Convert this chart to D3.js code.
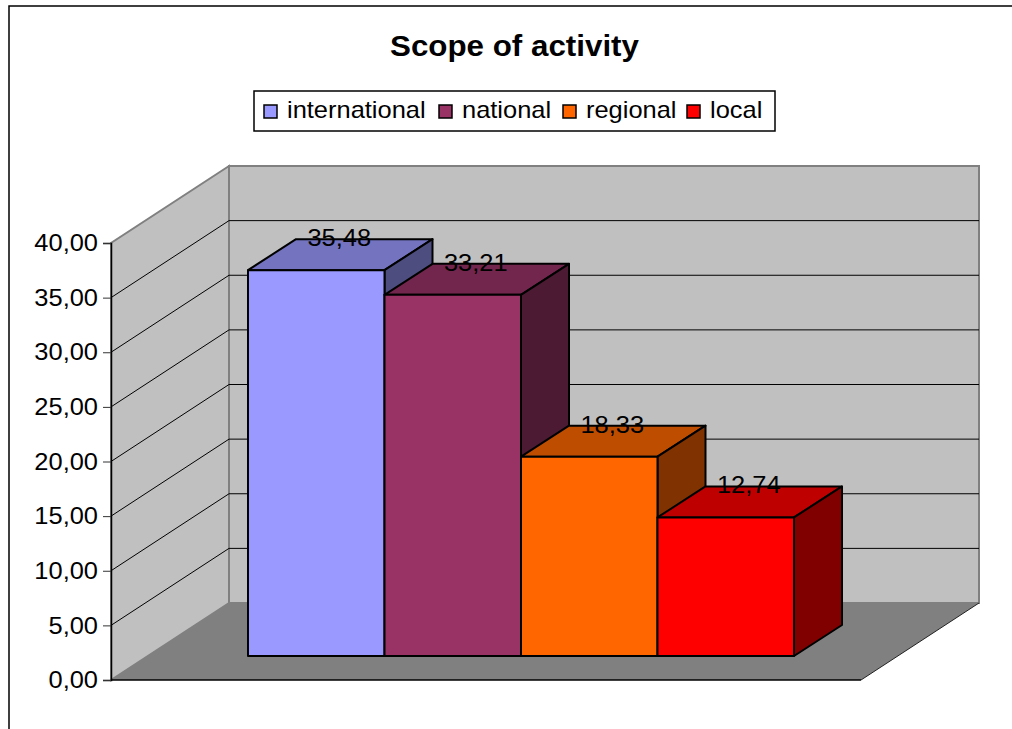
<!DOCTYPE html>
<html>
<head>
<meta charset="utf-8">
<script src="https://cdn.jsdelivr.net/npm/d3@7"></script>
<style>
html, body { margin: 0; padding: 0; background: #fff; overflow: hidden; }
svg { display: block; }
text { font-family: "Liberation Sans", Arial, sans-serif; fill: #000; }
</style>
</head>
<body>
<svg id="chart" width="1012" height="729"></svg>
<script>
// values
const categories = ["international", "national", "regional", "local"];
const values = [35.48, 33.21, 18.33, 12.74];
const yTicks = [0, 5, 10, 15, 20, 25, 30, 35, 40];
const chartTitle = "Scope of activity";
const colors = ["#9999FF", "#993366", "#FF6600", "#FF0000"];

const svg = d3.select("#chart");
const commaFmt = d3.formatLocale({decimal: ",", thousands: ".", grouping: [3], currency: ["", ""]}).format(".2f");

// front plane of the 3d box
const y = d3.scaleLinear().domain([0, 40]).range([680, 243]);
const frontLeft = 111, frontRight = 861;
// how far the wall sits behind the front plane
const depthX = 118, depthY = -77;
// bars stand in the middle of the floor
const barDepthX = 48, barDepthY = -31;
const barFloor = 656;
const barY = d3.scaleLinear().domain([0, 40]).range([barFloor, barFloor - 435]);
const x = d3.scaleBand().domain(categories).range([248, 794]).padding(0);

const fontSize = 24, textStretch = 1.06;

// widen text a bit, the reference is stretched sideways
function stretch(sel, k) {
    sel.each(function() {
        d3.select(this)
            .attr("textLength", this.getComputedTextLength() * k)
            .attr("lengthAdjust", "spacingAndGlyphs");
    });
}

// frame of the chart area, runs off the page on right and bottom
svg.append("path")
    .attr("d", "M9,729V6H1012")
    .attr("fill", "none")
    .attr("stroke", "#000")
    .attr("stroke-width", 1.5);

// title
svg.append("text")
    .attr("x", 514.5)
    .attr("y", 56)
    .attr("text-anchor", "middle")
    .attr("font-size", 29)
    .attr("font-weight", "bold")
    .text(chartTitle)
    .call(stretch, 1.08);

// back wall
const wallTop = y(40) + depthY, wallBottom = y(0) + depthY;
svg.append("rect")
    .attr("x", frontLeft + depthX)
    .attr("y", wallTop)
    .attr("width", frontRight - frontLeft)
    .attr("height", wallBottom - wallTop)
    .attr("fill", "#C0C0C0")
    .attr("stroke", "#808080")
    .attr("stroke-width", 2);

// side wall
svg.append("path")
    .attr("d", `M${frontLeft},${y(0)}L${frontLeft},${y(40)}L${frontLeft + depthX},${wallTop}L${frontLeft + depthX},${wallBottom}Z`)
    .attr("fill", "#C0C0C0")
    .attr("stroke", "#808080")
    .attr("stroke-width", 2);

// floor
svg.append("path")
    .attr("d", `M${frontLeft},${y(0)}L${frontLeft + depthX},${wallBottom}L${frontRight + depthX},${wallBottom}L${frontRight},${y(0)}Z`)
    .attr("fill", "#808080");
svg.append("path")
    .attr("d", `M${frontRight + depthX},${wallBottom}L${frontRight},${y(0)}`)
    .attr("stroke", "#222")
    .attr("stroke-width", 1);

// gridlines on side wall and back wall
const gridVals = yTicks.filter(d => d > 0 && d < 40);
svg.selectAll(".grid-side")
    .data(gridVals)
    .enter()
    .append("line")
    .attr("class", "grid-side")
    .attr("x1", frontLeft)
    .attr("y1", d => y(d))
    .attr("x2", frontLeft + depthX)
    .attr("y2", d => y(d) + depthY)
    .attr("stroke", "#000");
svg.selectAll(".grid-back")
    .data(gridVals)
    .enter()
    .append("line")
    .attr("class", "grid-back")
    .attr("x1", frontLeft + depthX)
    .attr("y1", d => y(d) + depthY)
    .attr("x2", frontRight + depthX)
    .attr("y2", d => y(d) + depthY)
    .attr("stroke", "#000");

// y axis
const axisG = svg.append("g")
    .attr("transform", `translate(${frontLeft},0)`)
    .call(d3.axisLeft(y).tickValues(yTicks).tickFormat(commaFmt).tickSize(8).tickPadding(5));
axisG.select(".domain").attr("stroke", "#000").attr("stroke-width", 1.5);
axisG.selectAll(".tick line").attr("stroke", "#333");
axisG.selectAll(".tick text")
    .attr("font-size", fontSize)
    .attr("font-family", "Liberation Sans")
    .call(stretch, textStretch);
svg.append("line")
    .attr("x1", frontLeft)
    .attr("x2", frontRight)
    .attr("y1", y(0))
    .attr("y2", y(0))
    .attr("stroke", "#000")
    .attr("stroke-width", 1.5);

// bars, left to right so each one covers the side of the last
const shade = (c, k) => {
    const r = d3.rgb(c);
    return d3.rgb(r.r * k, r.g * k, r.b * k).formatHex();
};
const bars = svg.selectAll(".bar")
    .data(categories)
    .enter()
    .append("g")
    .attr("class", "bar")
    .attr("stroke", "#000")
    .attr("stroke-width", 2)
    .attr("stroke-linejoin", "round");

bars.append("path") // top
    .attr("fill", (d, i) => shade(colors[i], 0.75))
    .attr("d", (d, i) => {
        const l = x(d), r = l + x.bandwidth(), t = barY(values[i]);
        return `M${l},${t}L${l + barDepthX},${t + barDepthY}L${r + barDepthX},${t + barDepthY}L${r},${t}Z`;
    });
bars.append("path") // side
    .attr("fill", (d, i) => shade(colors[i], 0.5))
    .attr("d", (d, i) => {
        const r = x(d) + x.bandwidth(), t = barY(values[i]);
        return `M${r},${t}L${r + barDepthX},${t + barDepthY}L${r + barDepthX},${barFloor + barDepthY}L${r},${barFloor}Z`;
    });
bars.append("rect") // front
    .attr("fill", (d, i) => colors[i])
    .attr("x", d => x(d))
    .attr("y", (d, i) => barY(values[i]))
    .attr("width", x.bandwidth())
    .attr("height", (d, i) => barFloor - barY(values[i]));

// value labels
svg.selectAll(".val")
    .data(categories)
    .enter()
    .append("text")
    .attr("class", "val")
    .attr("x", d => x(d) + x.bandwidth() / 2 + barDepthX / 2 - 1)
    .attr("y", (d, i) => barY(values[i]) + barDepthY + 7)
    .attr("text-anchor", "middle")
    .attr("font-size", fontSize)
    .text((d, i) => commaFmt(values[i]))
    .call(stretch, textStretch);

// legend
const legendX = d3.scaleOrdinal().domain(categories).range([264, 439, 563, 687]);
svg.append("rect")
    .attr("x", 254)
    .attr("y", 91)
    .attr("width", 521)
    .attr("height", 40)
    .attr("fill", "#fff")
    .attr("stroke", "#000")
    .attr("stroke-width", 1.5);
const leg = svg.selectAll(".legend")
    .data(categories)
    .enter()
    .append("g")
    .attr("class", "legend")
    .attr("transform", d => `translate(${legendX(d)},0)`);
leg.append("rect")
    .attr("y", 105)
    .attr("width", 13)
    .attr("height", 13)
    .attr("fill", (d, i) => colors[i])
    .attr("stroke", "#000")
    .attr("stroke-width", 1.5);
leg.append("text")
    .attr("x", 23)
    .attr("y", 118)
    .attr("font-size", fontSize)
    .text(d => d)
    .call(stretch, textStretch);
</script>
</body>
</html>
